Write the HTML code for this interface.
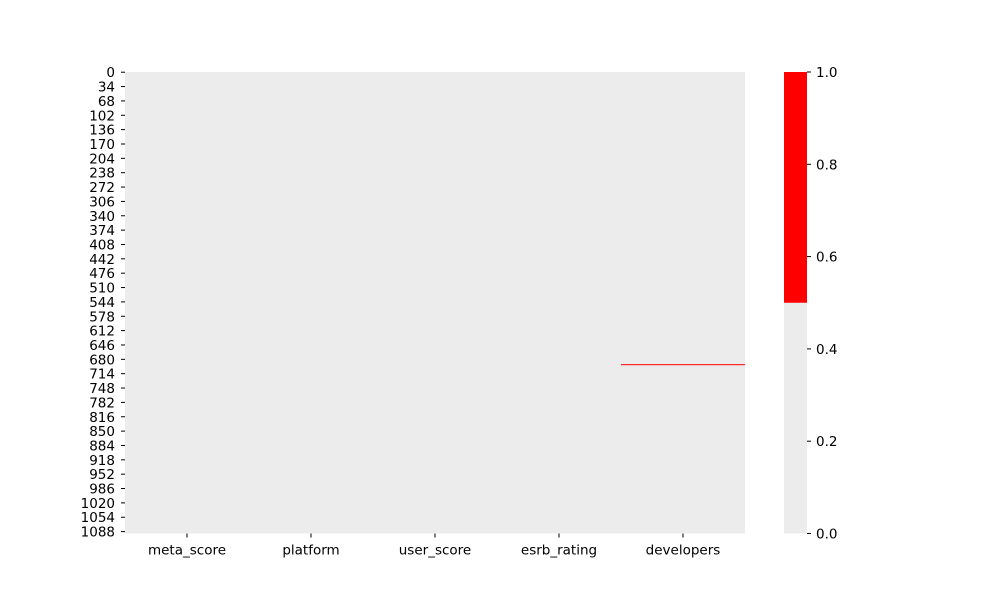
<!DOCTYPE html>
<html><head><meta charset="utf-8"><style>
body{margin:0;background:#fff;}
svg text{font-family:"DejaVu Sans","Liberation Sans",sans-serif;font-size:13.5px;fill:#000;}
</style></head><body>
<svg id="chart" width="1000" height="600" xmlns="http://www.w3.org/2000/svg"></svg>
<script>
const columns = ["meta_score","platform","user_score","esrb_rating","developers"];
const rowCount = 1093;
const missingRows = [692];
const missingCols = [4];
const rowTickStep = 34;
const cbTicks = [0.0,0.2,0.4,0.6,0.8,1.0];

const svg = document.getElementById('chart');
const NS = "http://www.w3.org/2000/svg";
const L=125,R=745,T=72,B=533.5;
const rowH=(B-T)/rowCount, colW=(R-L)/columns.length;
const y = i => T + i*rowH;
const x = j => L + j*colW;
function mk(tag, attrs, parent){const e=document.createElementNS(NS,tag);for(const k in attrs)e.setAttribute(k,attrs[k]);(parent||svg).appendChild(e);return e;}

const bg = mk('rect',{x:L,y:T,width:R-L,height:B-T,fill:'#ececec'});


missingRows.forEach((r,k)=>{
  const c = missingCols[k];
  const cell = mk('rect',{x:x(c),y:y(r),width:colW,height:Math.max(rowH,1),fill:'#ff0000'});
  
  
});
for(let i=0;i<rowCount;i+=rowTickStep){
  const yy=y(i+0.5);
  mk('line',{x1:L-4,x2:L,y1:yy,y2:yy,stroke:'#000','stroke-width':1});
  const t=mk('text',{x:L-10,y:yy+5,'text-anchor':'end'});t.textContent=i;
  
  
}
columns.forEach((c,j)=>{
  const xx=x(j+0.5);
  mk('line',{x1:xx,x2:xx,y1:B,y2:B+4,stroke:'#000','stroke-width':1});
  const t=mk('text',{x:xx,y:B+21,'text-anchor':'middle'});t.textContent=c;
  
  
});
// colorbar
const cL=784,cR=807;
const cy=v=>B-(B-T)*v;
const cb1=mk('rect',{x:cL,y:cy(0.5),width:cR-cL,height:cy(0)-cy(0.5),fill:'#ececec'});


const cb2=mk('rect',{x:cL,y:cy(1),width:cR-cL,height:cy(0.5)-cy(1),fill:'#ff0000'});


cbTicks.forEach(v=>{
  const yy=cy(v);
  mk('line',{x1:cR,x2:cR+4,y1:yy,y2:yy,stroke:'#000','stroke-width':1});
  const t=mk('text',{x:cR+9,y:yy+5});t.textContent=v.toFixed(1);
  
  
});
</script>
</body></html>
